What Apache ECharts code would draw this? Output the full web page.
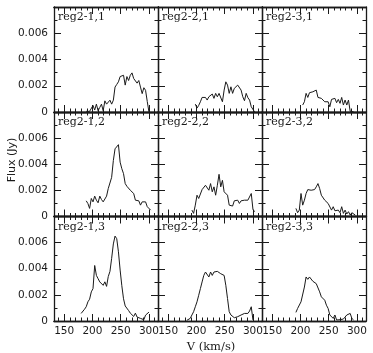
<!DOCTYPE html>
<html>
<head>
<meta charset="utf-8">
<script src="https://cdn.jsdelivr.net/npm/echarts@6.0.0/dist/echarts.min.js"></script>
<style>
  html, body { margin: 0; padding: 0; background: #fff; }
  #main { width: 373px; height: 353px; }
</style>
</head>
<body>
<div id="main"></div>
<script>
// velocity channels (km/s), shared by every panel
const vel = [180, 183, 186, 189, 192, 195, 198, 201, 204, 207, 210, 213, 216, 219,
  222, 225, 228, 231, 234, 237, 240, 243, 246, 249, 252, 255, 258, 261, 264, 267,
  270, 273, 276, 279, 282, 285, 288, 291, 294, 297, 300, 303];

// flux (Jy) per region, null = no channel drawn
const reg2_1_1 = [null, null, null, 0.00005, 0.0001, 0.00005, 0.00005, 0.0005, 0.00015, 0.0006,
  0.0001, 0.00035, 0.0006, 0.0001, 0.00085, 0.0006, 0.0007, 0.0009, 0.0006, 0.0009,
  0.0019, 0.0021, 0.0023, 0.0027, 0.00255, 0.0028, 0.00205, 0.0027, 0.0024, 0.0028,
  0.00298, 0.00255, 0.0027, 0.0022, 0.0024, 0.0019, 0.0014, 0.00185, 0.00165, 0.0008, 0, null];
const reg2_2_1 = [null, null, null, null, null, null, 0.0006, 0.0003, 0.0005, 0.00078,
  0.00111, 0.00096, 0.00111, 0.00091, 0.00116, 0.00109, 0.00137, 0.00104, 0.00142, 0.00116,
  0.00142, 0.00147, 0.00078, 0.00167, 0.0023, 0.00205, 0.00142, 0.00192, 0.00142, 0.0018,
  0.00187, 0.00205, 0.00213, 0.00167, 0.00116, 0.00086, 0.00142, 0.00109, 0.00091, 0.0004, 0.00053, 0];
const reg2_3_1 = [null, null, null, null, null, null, null, null, 0.00053, 0.00078,
  0.00142, 0.00111, 0.00147, 0.00137, 0.00154, 0.00142, 0.00167, 0.00111, 0.00121, 0.00104,
  0.00091, 0.00078, 0.00066, 0.00078, 0.0004, 0.00096, 0.00086, 0.00104, 0.00071, 0.00096,
  0.00066, 0.00111, 0.00053, 0.00091, 0.00053, 0.00091, 0.00005, 0.0001, 0.00002, null, null, null];
const reg2_1_2 = [null, null, null, 0.0012, 0.00099, 0.00062, 0.00138, 0.00112, 0.00156, 0.00125,
  0.00105, 0.00156, 0.0013, 0.00112, 0.00099, 0.00156, 0.00214, 0.00221, 0.003, 0.00429,
  0.00518, 0.00525, 0.0055, 0.00416, 0.00366, 0.00328, 0.00252, 0.00231, 0.00239, 0.00201,
  0.00214, 0.00176, 0.00125, 0.00112, 0.0012, 0.00087, 0.00112, 0.00099, 0.00112, 0.00075, 0.00062, 0.00049];
const reg2_2_2 = [null, null, null, null, 0.00049, 0.00024, 0.00087, 0.00163, 0.00138, 0.00151,
  0.00206, 0.00214, 0.00239, 0.00247, 0.00201, 0.00252, 0.00189, 0.00227, 0.00163, 0.00239,
  0.00323, 0.00227, 0.00277, 0.00189, 0.00201, 0.00163, 0.00087, 0.001, 0.0008, 0.0012,
  0.00105, 0.00125, 0.001, 0.0012, 0.00113, 0.00125, 0.00113, 0.00125, 0.0012, 0.00176, 0.00054, 0.00037];
const reg2_3_2 = [null, null, null, null, 0.00062, 0.00029, 0.00049, 0.00176, 0.00087, 0.00125,
  0.00176, 0.00206, 0.00196, 0.00201, 0.00196, 0.00206, 0.00227, 0.00252, 0.00214, 0.00163,
  0.00151, 0.00125, 0.00138, 0.001, 0.00087, 0.00049, 0.00075, 0.00044, 0.00037, 0.00049,
  0.00029, 0.00075, 0.00024, 0.00049, 0.00019, 0.00037, 0.00011, 0.00029, 0.00019, 0.00011, null, null];
const reg2_1_3 = [0.00058, 0.0007, 0.0009, 0.00109, 0.00147, 0.00167, 0.00223, 0.00248, 0.00425, 0.00349,
  0.00324, 0.00299, 0.00295, 0.00273, 0.003, 0.00265, 0.0034, 0.0038, 0.0048, 0.0059,
  0.0065, 0.0063, 0.0053, 0.0039, 0.0027, 0.0017, 0.00115, 0.001, 0.0008, 0.0006,
  0.00062, 0.00035, 0.0006, 0.0003, 0.00045, 0.0002, 0.0003, 0.0001, 0.00045, 0.00055, 0.00068, null];
const reg2_2_3 = [null, 0.00005, 0.00008, 0.0002, 0.00046, 0.00071, 0.00109, 0.00147, 0.00197, 0.00248,
  0.00299, 0.00349, 0.00375, 0.00362, 0.00337, 0.00375, 0.00349, 0.00375, 0.00362, 0.0038,
  0.00387, 0.00362, 0.00375, 0.00349, 0.00273, 0.00172, 0.00071, 0.00046, 0.00033, 0.00025,
  0.0002, 0.00033, 0.0002, 0.00046, 0.00033, 0.00058, 0.00071, 0.00058, 0.00076, 0.00109, 0.00008, null];
const reg2_3_3 = [null, null, null, null, 0.00066, 0.00096, 0.00091, 0.00147, 0.0014, 0.0026,
  0.00337, 0.00319, 0.00337, 0.00324, 0.00304, 0.00311, 0.00286, 0.00273, 0.00223, 0.00185,
  0.00172, 0.00159, 0.00121, 0.00096, 0.00046, 0.00058, 0.0002, 0.00046, 0.00008, 0.0002,
  0.0001, 0.00008, 0.00015, 0.0002, 0.00046, 0.00033, 0.00058, 0.0002, 0.00008, null, null, null];

// panels in row-major order (top row first)
const panelNames = ['reg2-1,1', 'reg2-2,1', 'reg2-3,1',
  'reg2-1,2', 'reg2-2,2', 'reg2-3,2',
  'reg2-1,3', 'reg2-2,3', 'reg2-3,3'];
const panelFlux = [reg2_1_1, reg2_2_1, reg2_3_1,
  reg2_1_2, reg2_2_2, reg2_3_2,
  reg2_1_3, reg2_2_3, reg2_3_3];

// axis ticks
const xMajorTicks = [150, 200, 250, 300];
const xMinorTicks = [140, 150, 160, 170, 180, 190, 200, 210, 220, 230, 240, 250,
  260, 270, 280, 290, 300, 310];
const xMin = 132, xMax = 316;
const yMin = 0, yMax = 0.008, yStep = 0.002;

// layout of the 3x3 block
const colLeft = [54, 158, 262];
const colWidth = 104;
const rowTop = [7, 112, 216.5];
const rowHeight = [105, 104.5, 104.5];

const ink = '#1a1a1a';

var grids = [], xAxes = [], yAxes = [], series = [], texts = [];

function xAxisDef(g, pos, ticks, len, withLabels) {
  return {
    type: 'value', gridIndex: g, position: pos, min: xMin, max: xMax,
    axisLine: { show: true, onZero: false, lineStyle: { color: ink, width: 1.3 } },
    axisTick: { show: true, inside: true, length: len, customValues: ticks,
      lineStyle: { color: ink, width: 1 } },
    axisLabel: withLabels
      ? { show: true, customValues: xMajorTicks, margin: 5, color: ink,
          fontFamily: 'DejaVu Sans', fontSize: 10.5 }
      : { show: false },
    splitLine: { show: false }
  };
}

function yAxisDef(g, pos, withLabels) {
  return {
    type: 'value', gridIndex: g, position: pos, min: yMin, max: yMax, interval: yStep,
    axisLine: { show: true, onZero: false, lineStyle: { color: ink, width: 1.3 } },
    axisTick: { show: true, inside: true, length: 7, lineStyle: { color: ink, width: 1 } },
    minorTick: { show: true, splitNumber: 2, length: 3.5, lineStyle: { color: ink, width: 1 } },
    axisLabel: withLabels
      ? { show: true, showMaxLabel: false, margin: 6, color: ink,
          fontFamily: 'DejaVu Sans', fontSize: 10.5 }
      : { show: false },
    splitLine: { show: false },
    minorSplitLine: { show: false }
  };
}

for (let row = 0; row < 3; row++) {
  for (let col = 0; col < 3; col++) {
    const g = row * 3 + col;
    grids.push({
      left: colLeft[col], top: rowTop[row], width: colWidth, height: rowHeight[row],
      outerBoundsMode: 'none', containLabel: false
    });
    // bottom major / minor, top major / minor
    xAxes.push(xAxisDef(g, 'bottom', xMajorTicks, 7, row === 2));
    xAxes.push(xAxisDef(g, 'bottom', xMinorTicks, 3.5, false));
    xAxes.push(xAxisDef(g, 'top', xMajorTicks, 7, false));
    xAxes.push(xAxisDef(g, 'top', xMinorTicks, 3.5, false));
    yAxes.push(yAxisDef(g, 'left', col === 0));
    yAxes.push(yAxisDef(g, 'right', false));

    const flux = panelFlux[g];
    const pts = [];
    vel.forEach((v, i) => {
      if (flux[i] !== null) pts.push([v, flux[i]]);
    });
    series.push({
      name: panelNames[g],
      type: 'line',
      xAxisIndex: g * 4,
      yAxisIndex: g * 2,
      data: pts,
      showSymbol: false,
      silent: true,
      lineStyle: { color: ink, width: 1 }
    });

    texts.push({
      type: 'text',
      left: colLeft[col] + 4,
      top: rowTop[row] + 5,
      style: { text: panelNames[g], fill: ink, font: '11px "DejaVu Serif"' }
    });
  }
}

// axis titles
texts.push({
  type: 'text',
  x: 12, y: 160,
  rotation: Math.PI / 2,
  style: { text: 'Flux (Jy)', fill: ink, font: '11px "DejaVu Sans"',
    textAlign: 'center', textVerticalAlign: 'middle' }
});
texts.push({
  type: 'text',
  x: 211, y: 347,
  style: { text: 'V (km/s)', fill: ink, font: '11.5px "DejaVu Serif"',
    textAlign: 'center', textVerticalAlign: 'middle' }
});

var chart = echarts.init(document.getElementById('main'), null, { renderer: 'canvas' });
var option = {
  backgroundColor: '#fff',
  animation: false,
  grid: grids,
  xAxis: xAxes,
  yAxis: yAxes,
  series: series,
  graphic: texts
};
chart.setOption(option);
</script>
</body>
</html>
